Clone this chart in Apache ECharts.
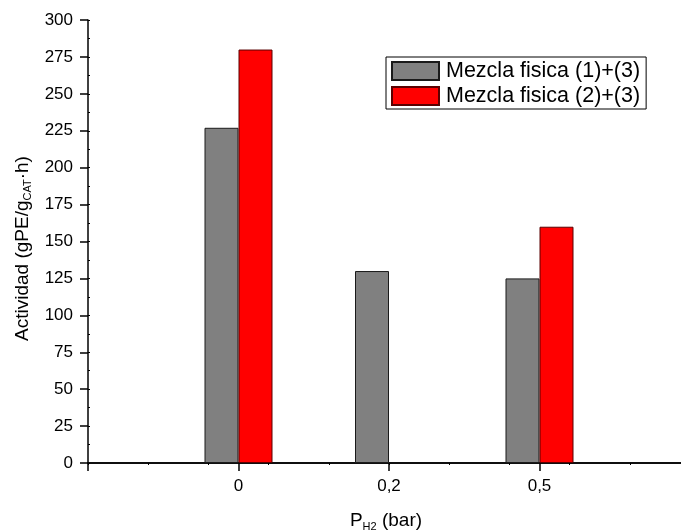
<!DOCTYPE html>
<html>
<head>
<meta charset="utf-8">
<style>
  html, body { margin: 0; padding: 0; background: #fff; }
  #chart { width: 681px; height: 530px; }
</style>
<script src="https://cdn.jsdelivr.net/npm/echarts@6/dist/echarts.min.js"></script>
</head>
<body>
<div id="chart"></div>
<script>
// Hydrogen pressure categories (empty slots pad the axis on both sides)
const categories = ['', '0', '0,2', '0,5', ''];
// Activity of each physical mixture, gPE/gCAT·h
const mezcla13 = ['-', 227, 130, 125, '-'];
const mezcla23 = ['-', 280, '-', 160, '-'];
const seriesNames = ['Mezcla fisica (1)+(3)', 'Mezcla fisica (2)+(3)'];
const yMin = 0, yMax = 300, yStep = 25;

const FONT = 'Liberation Sans, Arial, sans-serif';
const chart = echarts.init(document.getElementById('chart'), null, { renderer: 'canvas' });

chart.setOption({
  animation: false,
  backgroundColor: '#ffffff',
  textStyle: { fontFamily: FONT, color: '#000' },
  grid: { left: 88, right: -9, top: 20, bottom: 67, outerBoundsMode: 'none', containLabel: false },
  legend: {
    orient: 'vertical',
    left: 386,
    top: 57,
    data: seriesNames,
    icon: 'rect',
    itemWidth: 47,
    itemHeight: 18,
    itemGap: 3,
    padding: [3, 6, 2, 5],
    borderColor: '#000',
    borderWidth: 1,
    backgroundColor: '#fff',
    textStyle: { fontFamily: FONT, fontSize: 21.5, color: '#000', padding: [0, 0, 0, 2] }
  },
  xAxis: [
    {
      type: 'category',
      data: categories,
      boundaryGap: false,
      position: 'bottom',
      axisLine: { lineStyle: { color: '#000', width: 1.5 } },
      axisTick: { show: true, length: 8, lineStyle: { color: '#000', width: 1.5 } },
      axisLabel: { fontFamily: FONT, fontSize: 17, color: '#000', margin: 15 },
      splitLine: { show: false },
      name: '{m|P}{sub|H2}{m| (bar)}',
      nameLocation: 'middle',
      nameGap: 47,
      nameTextStyle: {
        padding: [0, 6, 0, 0],
        rich: {
          m: { fontFamily: FONT, fontSize: 19, color: '#000' },
          sub: { fontFamily: FONT, fontSize: 11, color: '#000', padding: [11, 0, 0, 0] }
        }
      }
    },
    {
      // top frame edge with small inward ticks
      type: 'value',
      position: 'top',
      min: 0,
      max: 10,
      interval: 1,
      axisLine: { show: true, lineStyle: { color: '#000', width: 1.5 } },
      axisTick: { show: true, inside: true, length: 2, lineStyle: { color: '#000', width: 1 } },
      axisLabel: { show: false },
      splitLine: { show: false }
    }
  ],
  yAxis: [
    {
      type: 'value',
      min: yMin,
      max: yMax,
      interval: yStep,
      axisLine: { show: true, lineStyle: { color: '#000', width: 1.5 } },
      axisTick: { show: true, length: 8, lineStyle: { color: '#000', width: 1.5 } },
      axisLabel: { fontFamily: FONT, fontSize: 17, color: '#000', margin: 15 },
      splitLine: { show: false },
      name: '{m|Actividad (gPE/g}{sub|CAT}{m|·h)}',
      nameLocation: 'middle',
      nameGap: 53,
      nameTextStyle: {
        padding: [0, 14, 0, 0],
        rich: {
          m: { fontFamily: FONT, fontSize: 19, color: '#000' },
          sub: { fontFamily: FONT, fontSize: 11, color: '#000', padding: [11, 0, 0, 0] }
        }
      }
    },
    {
      // minor inward ticks along the left edge
      type: 'value',
      position: 'left',
      min: yMin,
      max: yMax,
      interval: yStep / 2,
      axisLine: { show: false },
      axisTick: { show: true, inside: true, length: 2, lineStyle: { color: '#000', width: 1 } },
      axisLabel: { show: false },
      splitLine: { show: false }
    }
  ],
  series: [
    {
      name: seriesNames[0],
      type: 'bar',
      data: mezcla13,
      barWidth: 34,
      barGap: '0%',
      itemStyle: { color: '#808080', borderColor: '#1a1a1a', borderWidth: 1 }
    },
    {
      name: seriesNames[1],
      type: 'bar',
      data: mezcla23,
      barWidth: 34,
      barGap: '0%',
      itemStyle: { color: '#ff0000', borderColor: '#5a0000', borderWidth: 1 }
    }
  ]
});
</script>
</body>
</html>
